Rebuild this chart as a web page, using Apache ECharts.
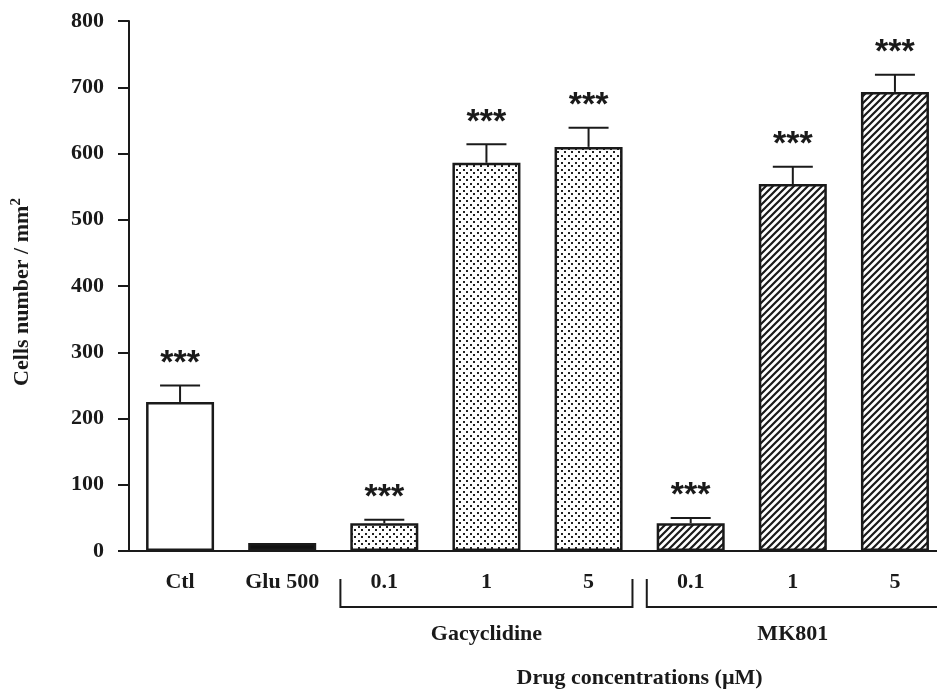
<!DOCTYPE html>
<html><head><meta charset="utf-8">
<script src="https://cdn.jsdelivr.net/npm/echarts@6/dist/echarts.min.js"></script>
<style>html,body{margin:0;padding:0;background:#fff}#c{width:937px;height:689px}</style>
</head><body><div id="c"></div>
<script>
// ---- data ----
const categories = ['Ctl', 'Glu 500', '0.1', '1', '5', '0.1', '1', '5'];
const values = [225, 12, 42, 586, 610, 42, 554, 693];
const errors = [25, 0, 5, 28, 29, 8, 26, 26];
const stars = ['***', '', '***', '***', '***', '***', '***', '***'];
const fills = ['white', 'black', 'dots', 'dots', 'dots', 'hatch', 'hatch', 'hatch'];
const groupNames = ['Gacyclidine', 'MK801'];
const groupStart = [2, 5];
const groupEnd = [4, 7];
const xTitle = 'Drug concentrations (\u00b5M)';
const yTitle = 'Cells number / mm';

const FONT = "'Liberation Serif', 'Times New Roman', serif";
const INK = '#1a1a1a';

function dotPattern() {
  const c = document.createElement('canvas'); c.width = 7; c.height = 7;
  const g = c.getContext('2d');
  g.fillStyle = '#fff'; g.fillRect(0, 0, 7, 7);
  g.fillStyle = '#222';
  g.fillRect(1, 1, 2, 2); g.fillRect(4, 4, 2, 2);
  return c;
}
function hatchPattern() {
  const s = 7;
  const c = document.createElement('canvas'); c.width = s; c.height = s;
  const g = c.getContext('2d');
  g.fillStyle = '#fff'; g.fillRect(0, 0, s, s);
  g.strokeStyle = '#1a1a1a'; g.lineWidth = 2.2;
  g.beginPath();
  g.moveTo(-1, s + 1); g.lineTo(s + 1, -1);
  g.moveTo(-1, 1); g.lineTo(1, -1);
  g.moveTo(s - 1, s + 1); g.lineTo(s + 1, s - 1);
  g.stroke();
  return c;
}
const dotFill = { image: dotPattern(), repeat: 'repeat' };
const hatchFill = { image: hatchPattern(), repeat: 'repeat' };
function fillFor(k) {
  if (k === 'white') return '#ffffff';
  if (k === 'black') return '#111111';
  if (k === 'dots') return dotFill;
  return hatchFill;
}

const chart = echarts.init(document.getElementById('c'), null, { renderer: 'canvas' });

const option = {
  animation: false,
  backgroundColor: '#fff',
  grid: { left: 129, right: -9, top: 21, bottom: 138, containLabel: false, outerBoundsMode: 'none' },
  xAxis: {
    type: 'category',
    data: categories,
    axisLine: { lineStyle: { color: INK, width: 2 } },
    axisTick: { show: false },
    axisLabel: { margin: 20, fontFamily: FONT, fontWeight: 'bold', fontSize: 22, color: INK, interval: 0 },
    splitLine: { show: false }
  },
  yAxis: {
    type: 'value', min: 0, max: 800, interval: 100,
    axisLine: { show: true, lineStyle: { color: INK, width: 2 } },
    axisTick: { show: true, length: 11, lineStyle: { color: INK, width: 2 } },
    axisLabel: { margin: 25, fontFamily: FONT, fontWeight: 'bold', fontSize: 22, color: INK },
    splitLine: { show: false }
  },
  series: [
    {
      type: 'bar',
      barWidth: 68,
      data: values.map((v, i) => ({ value: v, itemStyle: { color: fillFor(fills[i]) } })),
      itemStyle: { borderColor: INK, borderWidth: 2.5 },
      z: 2
    },
    {
      type: 'custom',
      data: values.map((v, i) => [i, v]),
      z: 3,
      renderItem: function (params, api) {
        const i = params.dataIndex;
        const p0 = api.coord([i, values[i]]);
        const p1 = api.coord([i, values[i] + errors[i]]);
        const children = [];
        if (errors[i] > 0) {
          children.push({ type: 'line', shape: { x1: p0[0], y1: p0[1], x2: p1[0], y2: p1[1] }, style: { stroke: INK, lineWidth: 2 } });
          children.push({ type: 'line', shape: { x1: p1[0] - 20, y1: p1[1], x2: p1[0] + 20, y2: p1[1] }, style: { stroke: INK, lineWidth: 2 } });
        }
        if (stars[i]) {
          children.push({ type: 'text', x: p1[0], y: p1[1] - 22, style: { text: stars[i], fontFamily: "'Liberation Sans', Arial, sans-serif", fontWeight: 'bold', fontSize: 34, fill: INK, align: 'center', verticalAlign: 'middle' } });
        }
        return { type: 'group', children: children };
      }
    },
    {
      type: 'custom',
      data: groupStart.map((s, k) => [s, 0]),
      z: 3,
      renderItem: function (params, api) {
        const k = params.dataIndex;
        const bw = api.size([1, 0])[0];
        const a = api.coord([groupStart[k], 0]);
        const b = api.coord([groupEnd[k], 0]);
        const x1 = a[0] - bw * 0.43, x2 = b[0] + bw * 0.43;
        const yTop = a[1] + 28, yBot = a[1] + 56;
        const st = { stroke: INK, lineWidth: 2, fill: null };
        return { type: 'group', children: [
          { type: 'polyline', shape: { points: [[x1, yTop], [x1, yBot], [x2, yBot], [x2, yTop]] }, style: st },
          { type: 'text', x: (a[0] + b[0]) / 2, y: a[1] + 83, style: { text: groupNames[k], fontFamily: FONT, fontWeight: 'bold', fontSize: 22, fill: INK, align: 'center', verticalAlign: 'middle' } }
        ] };
      }
    },
    {
      type: 'custom',
      data: [[groupStart[0], 0]],
      z: 3,
      renderItem: function (params, api) {
        const a = api.coord([groupStart[0], 0]);
        const b = api.coord([groupEnd[groupEnd.length - 1], 0]);
        return { type: 'text', x: (a[0] + b[0]) / 2, y: a[1] + 127, style: { text: xTitle, fontFamily: FONT, fontWeight: 'bold', fontSize: 22, fill: INK, align: 'center', verticalAlign: 'middle' } };
      }
    }
  ],
  graphic: [
    {
      type: 'text', x: 22, y: 292, rotation: Math.PI / 2,
      style: {
        text: '{a|' + yTitle + '}{s|2}',
        align: 'center', verticalAlign: 'middle', fill: INK,
        rich: {
          a: { fontFamily: FONT, fontWeight: 'bold', fontSize: 22, lineHeight: 26, fill: INK },
          s: { fontFamily: FONT, fontWeight: 'bold', fontSize: 15, lineHeight: 15, verticalAlign: 'top', fill: INK }
        }
      }
    }
  ]
};
chart.setOption(option);
</script>
</body></html>
